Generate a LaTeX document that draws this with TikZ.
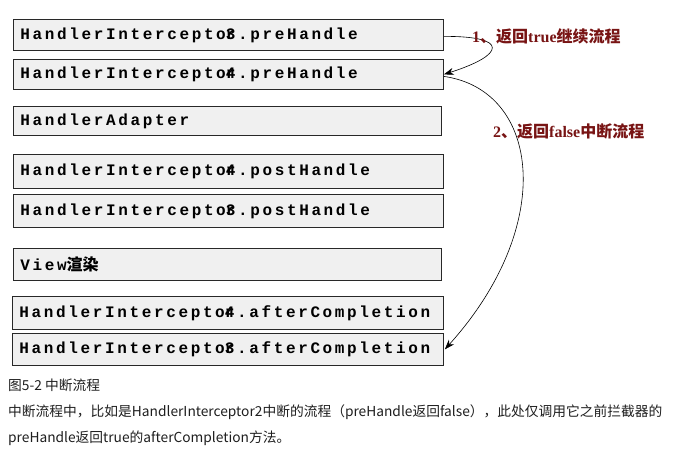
\documentclass[tikz,border=0pt]{standalone}
\usepackage{fontspec}
\setmainfont{Liberation Serif}
\newfontfamily\cjk{Noto Sans CJK SC}
\newfontfamily\mono[LetterSpace=16.5]{Liberation Mono}
\usetikzlibrary{arrows.meta}
\definecolor{boxfill}{RGB}{240,240,240}
\definecolor{boxline}{RGB}{40,40,40}
\definecolor{lblred}{RGB}{120,20,20}
\definecolor{captext}{RGB}{30,30,30}
\tikzset{
  stagebox/.style={draw=boxline, line width=0.8pt, fill=boxfill, anchor=north west,
    inner xsep=7pt, inner ysep=0pt, align=left,
    font=\mono\bfseries\fontsize{16}{18}\selectfont},
  flowarrow/.style={draw=black, line width=0.6pt, -{Stealth[length=10pt,width=7pt]}},
  flowlabel/.style={text=lblred, anchor=west, inner sep=0pt, font=\fontsize{16}{18}\selectfont\bfseries},
  caption/.style={text=captext, anchor=west, inner sep=0pt, font=\cjk\fontsize{13.75}{15}\selectfont}
}
\newcommand{\hicut}[1]{HandlerIntercepto\rlap{r}#1}
\begin{document}
\begin{tikzpicture}[x=1pt,y=-1pt]
\useasboundingbox (0,0) rectangle (684,458);
\node[stagebox, text width=416pt, minimum height=31pt] (b1) at (13,19) {\hicut{3}.preHandle};
\node[stagebox, text width=416pt, minimum height=30pt] (b2) at (13,59) {\hicut{4}.preHandle};
\node[stagebox, text width=414pt, minimum height=29pt] (b3) at (13,106) {HandlerAdapter};
\node[stagebox, text width=416pt, minimum height=34pt] (b4) at (13,154) {\hicut{4}.postHandle};
\node[stagebox, text width=416pt, minimum height=33pt] (b5) at (13,194) {\hicut{3}.postHandle};
\node[stagebox, text width=414pt, minimum height=32pt] (b6) at (13,248) {View{\cjk 渲染}};
\node[stagebox, text width=417pt, minimum height=33pt] (b7) at (12,296) {\hicut{4}.afterCompletion};
\node[stagebox, text width=417pt, minimum height=32pt] (b8) at (12,333) {\hicut{3}.afterCompletion};

\draw[flowarrow] ([yshift=-1.5pt]b1.east) .. controls (510,36) and (505,55) .. (b2.east);
\draw[flowarrow] ([yshift=-2pt]b2.east) .. controls (540,90) and (557,225) .. ([xshift=1pt]b8.east);

\node[flowlabel] (l1) at (472,36) {1{\cjk 、返回}true{\cjk 继续流程}};
\node[flowlabel] (l2) at (493,131) {2{\cjk 、返回}false{\cjk 中断流程}};

\node[caption] (c1) at (8,385) {图5-2 中断流程};
\node[caption] (c2) at (8,412) {中断流程中，比如是HandlerInterceptor2中断的流程（preHandle返回false），此处仅调用它之前拦截器的};
\node[caption] (c3) at (8,438) {preHandle返回true的afterCompletion方法。};
\end{tikzpicture}
\end{document}
